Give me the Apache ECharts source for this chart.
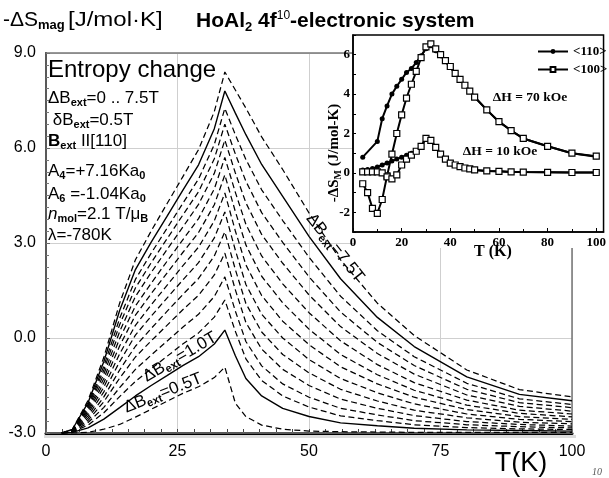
<!DOCTYPE html>
<html><head><meta charset="utf-8">
<script src="https://cdn.jsdelivr.net/npm/echarts@6/dist/echarts.min.js"></script>
<style>html,body{margin:0;padding:0;background:#fff}#c{width:609px;height:478px}</style>
</head><body><div id="c"></div>
<script>
// ---------- main chart data ----------
const temps = [3, 5, 8, 11, 14, 17, 20, 23, 26, 29, 32, 34, 36, 38, 41, 45, 50, 56, 63, 70, 80, 90, 100];
const fieldLabels = ['0.5','1.0','1.5','2.0','2.5','3.0','3.5','4.0','4.5','5.0','5.5','6.0','6.5','7.0','7.5'];
const dS_05 = [-3.00,-3.00,-2.98,-2.88,-2.73,-2.50,-2.25,-2.00,-1.75,-1.54,-1.25,-0.92,-2.06,-2.48,-2.75,-2.88,-2.94,-2.96,-2.97,-2.98,-2.98,-2.98,-2.98];
const dS_10 = [-3.00,-2.98,-2.84,-2.56,-2.20,-1.83,-1.50,-1.19,-0.87,-0.59,-0.19,0.25,-0.56,-1.28,-1.83,-2.22,-2.48,-2.68,-2.77,-2.85,-2.90,-2.92,-2.94];
const dS_15 = [-3.00,-2.97,-2.75,-2.36,-1.85,-1.37,-0.97,-0.58,-0.19,0.16,0.66,1.20,0.21,-0.66,-1.34,-1.83,-2.18,-2.46,-2.61,-2.74,-2.83,-2.87,-2.89];
const dS_20 = [-3.00,-2.97,-2.67,-2.19,-1.57,-0.99,-0.54,-0.10,0.34,0.75,1.31,1.93,0.85,-0.11,-0.88,-1.45,-1.87,-2.22,-2.43,-2.61,-2.74,-2.80,-2.84];
const dS_25 = [-3.00,-2.95,-2.60,-2.01,-1.27,-0.60,-0.09,0.40,0.89,1.35,1.99,2.68,1.52,0.49,-0.35,-0.99,-1.50,-1.93,-2.22,-2.45,-2.64,-2.73,-2.78];
const dS_30 = [-3.00,-2.95,-2.53,-1.86,-1.01,-0.26,0.30,0.84,1.37,1.88,2.59,3.35,2.16,1.09,0.19,-0.52,-1.10,-1.62,-1.99,-2.28,-2.52,-2.66,-2.71];
const dS_35 = [-3.00,-2.94,-2.46,-1.70,-0.75,0.09,0.69,1.26,1.83,2.38,3.16,3.98,2.77,1.69,0.75,0.00,-0.68,-1.28,-1.73,-2.08,-2.40,-2.57,-2.64];
const dS_40 = [-3.00,-2.93,-2.39,-1.55,-0.50,0.40,1.05,1.66,2.28,2.87,3.70,4.58,3.38,2.31,1.34,0.53,-0.21,-0.91,-1.45,-1.87,-2.26,-2.48,-2.57];
const dS_45 = [-3.00,-2.93,-2.33,-1.41,-0.25,0.72,1.40,2.05,2.70,3.33,4.21,5.15,3.99,2.94,1.95,1.11,0.28,-0.52,-1.16,-1.65,-2.12,-2.38,-2.49];
const dS_50 = [-3.00,-2.92,-2.27,-1.28,-0.02,1.01,1.73,2.42,3.10,3.77,4.71,5.70,4.60,3.59,2.59,1.71,0.80,-0.09,-0.84,-1.41,-1.96,-2.28,-2.40];
const dS_55 = [-3.00,-2.92,-2.21,-1.14,0.20,1.31,2.07,2.79,3.50,4.22,5.20,6.25,5.21,4.27,3.27,2.36,1.36,0.36,-0.49,-1.14,-1.80,-2.16,-2.31];
const dS_60 = [-3.00,-2.90,-2.15,-1.01,0.42,1.58,2.38,3.13,3.88,4.62,5.66,6.75,5.81,4.95,3.96,3.02,1.93,0.82,-0.14,-0.87,-1.62,-2.04,-2.20];
const dS_65 = [-3.00,-2.90,-2.10,-0.89,0.62,1.85,2.68,3.46,4.25,5.02,6.11,7.25,6.42,5.64,4.68,3.71,2.55,1.32,0.23,-0.59,-1.43,-1.92,-2.10];
const dS_70 = [-3.00,-2.89,-2.04,-0.74,0.87,2.16,3.03,3.84,4.66,5.47,6.61,7.80,7.10,6.42,5.48,4.47,3.21,1.87,0.65,-0.27,-1.23,-1.78,-1.98];
const dS_75 = [-3.00,-2.89,-1.97,-0.61,1.10,2.47,3.38,4.24,5.09,5.95,7.15,8.40,7.83,7.26,6.35,5.32,3.95,2.47,1.10,0.08,-1.01,-1.63,-1.86];
const curves = [dS_05,dS_10,dS_15,dS_20,dS_25,dS_30,dS_35,dS_40,dS_45,dS_50,dS_55,dS_60,dS_65,dS_70,dS_75];
const solidFields = ['1.0','7.0'];

// ---------- inset data ----------
const insetT70 = [4, 10, 12, 14, 16, 18, 20, 22, 24, 26, 28, 30, 32, 34, 36, 38, 40, 42, 44, 46, 48, 50, 55, 60, 65, 70, 80, 90, 100];
const s110_70 = [0.8, 1.6, 2.75, 3.4, 4.0, 4.4, 4.75, 5.1, 5.3, 5.6, 5.95, 6.3, 6.45, 6.2, 5.95, 5.65, 5.35, 5.05, 4.75, 4.45, 4.15, 3.85, 3.2, 2.6, 2.15, 1.75, 1.35, 1.0, 0.82];
const insetT = [4, 6, 8, 10, 12, 14, 16, 18, 20, 22, 24, 26, 28, 30, 32, 34, 36, 38, 40, 42, 44, 46, 48, 50, 55, 60, 65, 70, 80, 90, 100];
const s100_70 = [-0.55, -1.0, -1.8, -2.05, -1.35, -0.15, 0.95, 2.0, 2.95, 3.8, 4.5, 5.15, 5.85, 6.4, 6.55, 6.3, 6.0, 5.7, 5.4, 5.05, 4.75, 4.45, 4.15, 3.85, 3.2, 2.6, 2.15, 1.75, 1.35, 1.0, 0.85];
const s110_10 = [0.15, 0.17, 0.22, 0.3, 0.4, 0.5, 0.6, 0.7, 0.8, 0.9, 1.0, 1.1, 1.35, 1.75, 1.65, 1.3, 0.95, 0.7, 0.5, 0.4, 0.32, 0.25, 0.2, 0.15, 0.1, 0.08, 0.05, 0.04, 0.03, 0.02, 0.02];
const s100_10 = [0.05, 0.05, 0.05, 0.05, 0.0, -0.2, -0.3, -0.1, 0.4, 0.7, 0.9, 1.1, 1.35, 1.75, 1.65, 1.3, 0.95, 0.7, 0.5, 0.4, 0.32, 0.25, 0.2, 0.15, 0.1, 0.08, 0.05, 0.04, 0.03, 0.02, 0.02];
const arrowMarks = [[10.5, -2.95, -2.3], [16.5, -1.3, -0.5]];

const SANS = '"Liberation Sans", Arial, sans-serif';
const SERIF = '"Liberation Serif", "Times New Roman", serif';

const chart = echarts.init(document.getElementById('c'), null, {renderer: 'canvas'});

const mainSeries = curves.map((vals, i) => {
  const solid = solidFields.includes(fieldLabels[i]);
  return {
    type: 'line', name: 'dB=' + fieldLabels[i] + 'T', xAxisIndex: 0, yAxisIndex: 0,
    data: temps.map((t, j) => [t, vals[j]]),
    symbol: 'none', silent: true, z: 3,
    lineStyle: {color: '#000', width: solid ? 1.4 : 1.25, type: solid ? 'solid' : [6, 3.5]}
  };
});

function insetSeries(name, xs, ys, filled) {
  return {
    type: 'line', name: name, xAxisIndex: 1, yAxisIndex: 1,
    data: xs.map((t, j) => [t, ys[j]]),
    symbol: filled ? 'circle' : 'rect', symbolSize: filled ? 5 : 6,
    itemStyle: filled ? {color: '#000'} : {color: '#fff', borderColor: '#000', borderWidth: 1.2},
    lineStyle: {color: '#000', width: 2},
    z: 30, silent: true
  };
}

const insetList = [
  insetSeries('<110>', insetT70, s110_70, true),
  insetSeries('<110>', insetT, s110_10, true),
  insetSeries('<100>', insetT, s100_70, false),
  insetSeries('<100>', insetT, s100_10, false)
];
insetList[0].markLine = {
  silent: true, symbol: 'none', label: {show: false},
  lineStyle: {color: '#000', width: 1.5, type: 'solid'},
  data: [{yAxis: 0}]
};
insetList[3].markLine = {
  silent: true, symbol: ['none', 'arrow'], symbolSize: 6, label: {show: false},
  lineStyle: {color: '#000', width: 1, type: 'solid'},
  data: arrowMarks.map(a => [{coord: [a[0], a[1]]}, {coord: [a[0], a[2]]}])
};

const sub = (fs, pad) => ({fontSize: fs, padding: [pad, 0, 0, 0], fontFamily: SANS, fontWeight: 'bold'});

const option = {
  animation: false,
  backgroundColor: '#fff',
  grid: [
    {left: 46, top: 53, width: 526, height: 380, show: true, borderColor: '#777', borderWidth: 1.5, z: 1},
    {left: 353, top: 35, width: 253, height: 197, show: true, borderColor: '#000', borderWidth: 1.5, backgroundColor: '#fff', z: 20}
  ],
  xAxis: [
    {gridIndex: 0, type: 'value', min: 0, max: 100, interval: 25,
     axisLine: {show: true, onZero: false, lineStyle: {color: '#000', width: 3}},
     axisTick: {show: true, inside: true, length: 4, lineStyle: {color: '#444'}},
     minorTick: {show: true, splitNumber: 8, length: 4, lineStyle: {color: '#444'}},
     splitLine: {show: true, lineStyle: {color: '#cfcfcf', width: 1}},
     axisLabel: {color: '#000', fontSize: 16, fontFamily: SANS, margin: 11}},
    {gridIndex: 1, type: 'value', min: 0, max: 103, interval: 20, z: 25,
     axisLine: {show: true, onZero: false, lineStyle: {color: '#000', width: 1.5}},
     axisTick: {show: true, inside: true, length: 4, lineStyle: {color: '#000'}},
     minorTick: {show: true, splitNumber: 2, length: 3, lineStyle: {color: '#000'}},
     splitLine: {show: false},
     axisLabel: {color: '#000', fontSize: 13, fontWeight: 'bold', fontFamily: SERIF, margin: 4,
       formatter: v => (v % 20 === 0 ? String(v) : '')}}
  ],
  yAxis: [
    {gridIndex: 0, type: 'value', min: -3, max: 9, interval: 3,
     axisLine: {show: true, onZero: false, lineStyle: {color: '#000', width: 2}},
     axisTick: {show: true, inside: true, length: 4, lineStyle: {color: '#666'}},
     minorTick: {show: true, splitNumber: 8, length: 3, lineStyle: {color: '#777'}},
     splitLine: {show: true, lineStyle: {color: '#cfcfcf', width: 1}},
     axisLabel: {color: '#000', fontSize: 16, fontFamily: SANS, margin: 10, formatter: v => v.toFixed(1)}},
    {gridIndex: 1, type: 'value', min: -3, max: 7, interval: 1, z: 25,
     axisLine: {show: true, onZero: false, lineStyle: {color: '#000', width: 1.5}},
     axisTick: {show: true, inside: true, length: 3, lineStyle: {color: '#000'}},
     minorTick: {show: false},
     splitLine: {show: false},
     axisLabel: {color: '#000', fontSize: 13, fontWeight: 'bold', fontFamily: SERIF, margin: 3,
       formatter: v => (Math.abs(v % 2) === 0 ? String(v) : '')}}
  ],
  legend: {
    data: ['<110>', '<100>'], orient: 'vertical', left: 532, top: 40, itemWidth: 30, itemHeight: 6, itemGap: 5,
    textStyle: {fontFamily: SERIF, fontWeight: 'bold', fontSize: 13, color: '#000'}, z: 40, selectedMode: false
  },
  series: mainSeries.concat(insetList),
  graphic: [
    // white backing for inset
    {type: 'rect', z: 15, silent: true, shape: {x: 355, y: 28, width: 254, height: 220}, style: {fill: '#fff'}},
    // shadow under bottom axis
    {type: 'rect', z: 0, silent: true, shape: {x: 44, y: 435, width: 532, height: 3}, style: {fill: '#dcdcdc'}},
    // titles
    {type: 'text', z: 50, x: 3, y: 20, style: {
      text: '-ΔS{s|mag}', fontSize: 21, fontFamily: SANS, fill: '#000', verticalAlign: 'middle',
      rich: {s: {fontSize: 13, padding: [11, 0, 0, 0], fontFamily: SANS, fontWeight: 'bold'}}}},
    {type: 'text', z: 50, x: 68, y: 20, scaleX: 1.2, style: {
      text: '[J/mol·K]', fontSize: 20, fontFamily: SANS, fill: '#000', verticalAlign: 'middle'}},
    {type: 'text', z: 50, x: 196, y: 21, style: {
      text: 'HoAl{s|2} 4f{p|10}-electronic system', fontSize: 21, fontWeight: 'bold', fontFamily: SANS, fill: '#000', verticalAlign: 'middle',
      rich: {s: {fontSize: 13, fontWeight: 'bold', padding: [12, 0, 0, 0], fontFamily: SANS},
             p: {fontSize: 12, fontWeight: 'normal', padding: [0, 0, 10, 0], fontFamily: SANS}}}},
    // inner texts
    {type: 'text', z: 50, x: 48, y: 70, style: {text: 'Entropy change', fontSize: 24, fontFamily: SANS, fill: '#000', verticalAlign: 'middle'}},
    {type: 'text', z: 50, x: 48, y: 98, style: {text: 'ΔB{s|ext}=0 .. 7.5T', fontSize: 17, fontFamily: SANS, fill: '#000', verticalAlign: 'middle', rich: {s: sub(11, 9)}}},
    {type: 'text', z: 50, x: 48, y: 120, style: {text: ' δB{s|ext}=0.5T', fontSize: 17, fontFamily: SANS, fill: '#000', verticalAlign: 'middle', rich: {s: sub(11, 9)}}},
    {type: 'text', z: 50, x: 48, y: 141, style: {text: '{b|B}{s|ext} II[110]', fontSize: 17, fontFamily: SANS, fill: '#000', verticalAlign: 'middle', rich: {b: {fontSize: 17, fontWeight: 'bold', fontFamily: SANS}, s: sub(11, 9)}}},
    {type: 'text', z: 50, x: 48, y: 171, style: {text: 'A{s|4}=+7.16Ka{s|0}', fontSize: 17, fontFamily: SANS, fill: '#000', verticalAlign: 'middle', rich: {s: sub(11, 9)}}},
    {type: 'text', z: 50, x: 48, y: 194, style: {text: 'A{s|6} =-1.04Ka{s|0}', fontSize: 17, fontFamily: SANS, fill: '#000', verticalAlign: 'middle', rich: {s: sub(11, 9)}}},
    {type: 'text', z: 50, x: 48, y: 214, style: {text: '{i|n}{s|mol}=2.1 T/μ{s|B}', fontSize: 17, fontFamily: SANS, fill: '#000', verticalAlign: 'middle', rich: {i: {fontSize: 17, fontStyle: 'italic', fontFamily: SANS}, s: sub(11, 9)}}},
    {type: 'text', z: 50, x: 48, y: 235, style: {text: 'λ=-780K', fontSize: 17, fontFamily: SANS, fill: '#000', verticalAlign: 'middle'}},
    // curve labels
    {type: 'text', z: 12, x: 335, y: 248, rotation: -0.9, style: {text: 'ΔB{s|ext}=7.5T', fontSize: 17, fontFamily: SANS, fill: '#000', align: 'center', verticalAlign: 'middle', rich: {s: sub(11, 9)}}},
    {type: 'text', z: 12, x: 180, y: 357, rotation: 0.53, style: {text: 'ΔB{s|ext}=1.0T', fontSize: 17, fontFamily: SANS, fill: '#000', align: 'center', verticalAlign: 'middle', rich: {s: sub(11, 9)}}},
    {type: 'text', z: 12, x: 163, y: 393, rotation: 0.38, style: {text: 'ΔB{s|ext}=0.5T', fontSize: 17, fontFamily: SANS, fill: '#000', align: 'center', verticalAlign: 'middle', rich: {s: sub(11, 9)}}},
    // axis title bottom
    {type: 'text', z: 50, x: 521, y: 464, style: {text: 'T(K)', fontSize: 27, fontFamily: SANS, fill: '#000', align: 'center', verticalAlign: 'middle'}},
    {type: 'text', z: 50, x: 597, y: 472, style: {text: '10', fontSize: 10, fontStyle: 'italic', fontFamily: SERIF, fill: '#555', align: 'center', verticalAlign: 'middle'}},
    // inset texts
    {type: 'text', z: 50, x: 334, y: 153, rotation: Math.PI / 2, style: {text: '-ΔS{s|M} (J/mol-K)', fontSize: 15, fontWeight: 'bold', fontFamily: SERIF, fill: '#000', align: 'center', verticalAlign: 'middle', rich: {s: {fontSize: 10, fontWeight: 'bold', fontFamily: SERIF, padding: [8, 0, 0, 0]}}}},
    {type: 'text', z: 50, x: 493, y: 252, style: {text: 'T (K)', fontSize: 16, fontWeight: 'bold', fontFamily: SERIF, fill: '#000', align: 'center', verticalAlign: 'middle'}},
    {type: 'text', z: 50, x: 530, y: 98, style: {text: 'ΔH = 70 kOe', fontSize: 13.5, fontWeight: 'bold', fontFamily: SERIF, fill: '#000', align: 'center', verticalAlign: 'middle'}},
    {type: 'text', z: 50, x: 500, y: 152, style: {text: 'ΔH = 10 kOe', fontSize: 13.5, fontWeight: 'bold', fontFamily: SERIF, fill: '#000', align: 'center', verticalAlign: 'middle'}}
  ]
};
chart.setOption(option);
</script></body></html>
